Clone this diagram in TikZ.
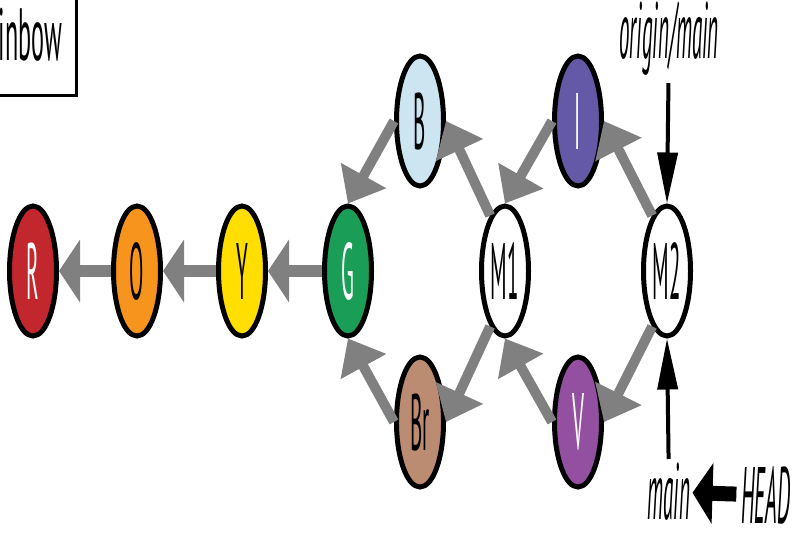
\documentclass[tikz,border=0pt]{standalone}
\usepackage{fontspec}
\setmainfont{PT Sans}
\usepackage{graphicx}
\usetikzlibrary{shapes.geometric}
\usetikzlibrary{arrows.meta}
\definecolor{c_red}{HTML}{C1272D}
\definecolor{c_orange}{HTML}{F7941D}
\definecolor{c_yellow}{HTML}{FFDE00}
\definecolor{c_green}{HTML}{1A9E57}
\definecolor{c_blue}{HTML}{CDE4F1}
\definecolor{c_indigo}{HTML}{6459A6}
\definecolor{c_violet}{HTML}{9450A0}
\definecolor{c_brown}{HTML}{BC8C72}
\definecolor{c_gray}{HTML}{808080}
\newcommand{\tall}[2][1.05]{\scalebox{#1}[4]{#2}}
\tikzset{
  commit/.style = {ellipse, draw=black, line width=5pt, inner sep=0pt,
    minimum width=47pt, minimum height=130pt,
    font=\fontsize{20}{20}\selectfont},% commit, noeud de base
  dark_commit/.style = {commit, text=white},% commit fonce, texte blanc
  light_commit/.style = {commit, text=black},% commit clair, texte noir
  chain_edge/.style = {draw=c_gray, line width=12pt,
    -{Triangle[length=21pt, width=62pt]}},% lien horizontal vers le parent
  parent_edge/.style = {draw=c_gray, line width=10pt,
    -{Triangle[length=32pt, width=50pt]}},% lien oblique vers le parent
  ref_label/.style = {inner sep=0pt, font=\itshape\fontsize{20}{20}\selectfont},% nom de branche
  ref_arrow/.style = {draw=black, line width=4pt,
    -{Triangle[length=51pt, width=20pt]}},% branche vers commit
  head_arrow/.style = {draw=black, line width=15pt,
    -{Triangle[length=20pt, width=60pt]}},% HEAD vers branche
  title_box/.style = {draw=black, line width=3.5pt, inner xsep=14pt,
    minimum height=122pt, font=\fontsize{20}{20}\selectfont}% cadre du titre
}
\begin{document}
\begin{tikzpicture}[x=1pt, y=-1pt]
  \useasboundingbox (0,0) rectangle (795,533);
  \clip (0,0) rectangle (795,533);
  \node [title_box, anchor=south east] (rainbow) at (78,97) {\scalebox{1.21}[3.7]{Rainbow}};
  % commits
  \node [dark_commit, fill=c_red] (R) at (33,271) {\tall{R}};
  \node [light_commit, fill=c_orange] (O) at (137,271) {\tall{O}};
  \node [light_commit, fill=c_yellow] (Y) at (242,271) {\tall{Y}};
  \node [dark_commit, fill=c_green] (G) at (348,271) {\tall{G}};
  \node [light_commit, fill=c_blue] (B) at (420,121) {\tall{B}};
  \node [light_commit, fill=c_brown] (Br) at (420,422) {\tall{Br}};
  \node [light_commit, fill=white] (M1) at (505,271) {\tall{M1}};
  \node [dark_commit, fill=c_indigo] (I) at (578,121) {\tall{I}};
  \node [dark_commit, fill=c_violet] (V) at (578,422) {\tall{V}};
  \node [light_commit, fill=white] (M2) at (667,271) {\tall{M2}};
  % liens vers les parents
  \foreach \from/\to in {O/R, Y/O, G/Y}
    \draw [chain_edge] (\from) -- (\to);
  \draw [parent_edge] (B.west) -- (G.north);
  \draw [parent_edge] (Br.west) -- (G.south);
  \draw [parent_edge] (M1.105) -- (B.east);
  \draw [parent_edge] (M1.255) -- (Br.east);
  \draw [parent_edge] (I.west) -- (M1.north);
  \draw [parent_edge] (V.west) -- (M1.south);
  \draw [parent_edge] (M2.105) -- (I.east);
  \draw [parent_edge] (M2.255) -- (V.east);
  % branches
  \node [ref_label] (origin) at (669,38) {\tall{origin/main}};
  \node [ref_label] (main) at (669,492) {\tall{main}};
  \node [ref_label] (HEAD) at (766,495) {\tall{HEAD}};
  \draw [ref_arrow, shorten <=8pt] (origin) -- (M2.north);
  \draw [ref_arrow, shorten <=4pt] (main) -- (M2.south);
  \draw [head_arrow, shorten <=5pt, shorten >=2pt] (HEAD) -- (main);
\end{tikzpicture}
\end{document}
